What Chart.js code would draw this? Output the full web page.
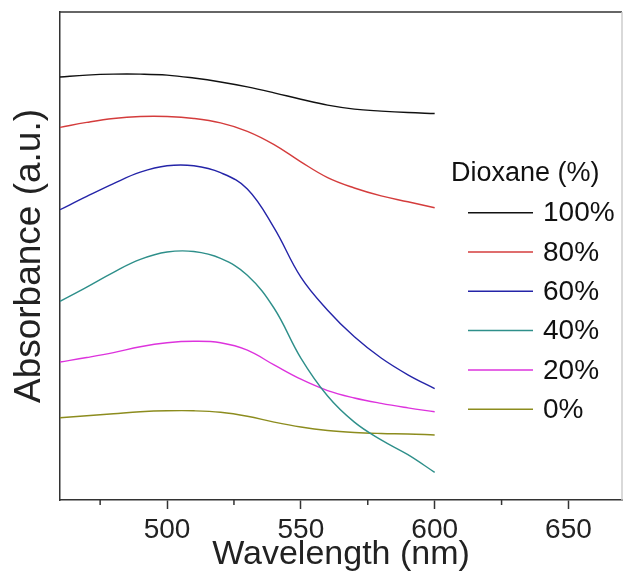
<!DOCTYPE html>
<html>
<head>
<meta charset="utf-8">
<script src="https://cdn.jsdelivr.net/npm/chart.js@4/dist/chart.umd.min.js"></script>
<style>
  html, body { margin: 0; padding: 0; background: #fff; }
  #wrap { width: 623px; height: 578px; }
</style>
</head>
<body>
<div id="wrap"><canvas id="c" width="623" height="578"></canvas></div>
<script>
// Wavelength (nm)
const wavelengths = [460, 470, 480, 490, 500, 510, 520, 530, 540, 550, 560, 570, 580, 590, 600];
// Absorbance (arbitrary units, offset curves)
const dioxane100 = [8.68, 8.72, 8.74, 8.74, 8.72, 8.66, 8.58, 8.48, 8.36, 8.23, 8.11, 8.03, 7.99, 7.96, 7.94];
const dioxane80  = [7.66, 7.76, 7.84, 7.88, 7.88, 7.84, 7.75, 7.58, 7.31, 6.96, 6.64, 6.43, 6.27, 6.15, 6.03];
const dioxane60  = [5.99, 6.26, 6.52, 6.75, 6.88, 6.88, 6.74, 6.41, 5.62, 4.62, 3.95, 3.41, 2.98, 2.64, 2.36];
const dioxane40  = [4.13, 4.42, 4.72, 4.98, 5.13, 5.14, 5.00, 4.66, 3.99, 2.98, 2.21, 1.68, 1.32, 1.02, 0.66];
const dioxane20  = [2.90, 2.99, 3.09, 3.21, 3.29, 3.32, 3.29, 3.14, 2.84, 2.55, 2.32, 2.17, 2.06, 1.97, 1.89];
const dioxane0   = [1.77, 1.81, 1.85, 1.89, 1.91, 1.91, 1.88, 1.80, 1.68, 1.58, 1.51, 1.47, 1.45, 1.44, 1.42];
const seriesLabels = ['100%', '80%', '60%', '40%', '20%', '0%'];
const majorTicks = [500, 550, 600, 650];
const minorTicks = [475, 525, 575, 625];

const FONT = "'Liberation Sans', Arial, sans-serif";
const colors = ['#111111', '#d43c3c', '#2424a8', '#2e8f8a', '#dd33dd', '#8c8c1e'];
const seriesValues = [dioxane100, dioxane80, dioxane60, dioxane40, dioxane20, dioxane0];

const datasets = seriesValues.map((vals, i) => ({
  label: seriesLabels[i],
  data: wavelengths.map((w, j) => ({ x: w, y: vals[j] })),
  borderColor: colors[i],
  backgroundColor: colors[i],
  borderWidth: 1.4,
  pointRadius: 0,
  tension: 0.4,
  fill: false
}));

const framePlugin = {
  id: 'frame',
  afterDraw(chart) {
    const { ctx, chartArea: a, scales: { x } } = chart;
    ctx.save();
    ctx.lineWidth = 1.5;
    ctx.strokeStyle = '#333';
    ctx.beginPath();
    ctx.moveTo(a.left, a.top);
    ctx.lineTo(a.right, a.top);
    ctx.stroke();
    ctx.strokeStyle = '#cccccc';
    ctx.beginPath();
    ctx.moveTo(a.right, a.top);
    ctx.lineTo(a.right, a.bottom);
    ctx.stroke();
    // minor ticks
    ctx.strokeStyle = '#333';
    ctx.lineWidth = 1.5;
    minorTicks.forEach(v => {
      const px = x.getPixelForValue(v);
      ctx.beginPath();
      ctx.moveTo(px, a.bottom);
      ctx.lineTo(px, a.bottom + 5);
      ctx.stroke();
    });
    ctx.restore();
  }
};

const legendPlugin = {
  id: 'customLegend',
  afterDraw(chart) {
    const { ctx } = chart;
    ctx.save();
    ctx.fillStyle = '#111';
    ctx.textBaseline = 'middle';
    ctx.textAlign = 'left';
    ctx.font = '27px ' + FONT;
    ctx.fillText('Dioxane (%)', 451, 174);
    const y0 = 212.7, dy = 39.3;
    chart.data.datasets.forEach((ds, i) => {
      const y = y0 + i * dy;
      ctx.strokeStyle = ds.borderColor;
      ctx.lineWidth = 1.5;
      ctx.beginPath();
      ctx.moveTo(468, y);
      ctx.lineTo(533, y);
      ctx.stroke();
      ctx.fillStyle = '#111';
      ctx.font = '28px ' + FONT;
      ctx.fillText(ds.label, 543, y + 1);
    });
    ctx.restore();
  }
};

new Chart(document.getElementById('c'), {
  type: 'line',
  data: { datasets },
  plugins: [framePlugin, legendPlugin],
  options: {
    responsive: false,
    animation: false,
    layout: { padding: { top: 12, right: 1, left: 0, bottom: 0 } },
    plugins: { legend: { display: false }, tooltip: { enabled: false } },
    scales: {
      x: {
        type: 'linear',
        min: 460,
        max: 670,
        afterBuildTicks: (s) => { s.ticks = majorTicks.map(v => ({ value: v })); },
        afterFit: (s) => { s.height = 78; },
        grid: { display: true, drawOnChartArea: false, drawTicks: true, tickLength: 9, tickColor: '#333', tickWidth: 1.5 },
        border: { display: true, color: '#333', width: 1.5 },
        ticks: { font: { family: FONT, size: 28 }, color: '#222', padding: 4, maxRotation: 0, autoSkip: false },
        title: { display: true, text: 'Wavelength (nm)', font: { family: FONT, size: 34 }, color: '#222', padding: { top: 0, bottom: 3 } }
      },
      y: {
        type: 'linear',
        min: 0.1,
        max: 10,
        afterFit: (s) => { s.width = 60; },
        grid: { display: false, drawTicks: false },
        border: { display: true, color: '#333', width: 1.5 },
        ticks: { display: false },
        title: { display: true, text: 'Absorbance (a.u.)', font: { family: FONT, size: 37 }, color: '#222', padding: { top: 8, bottom: 0 } }
      }
    }
  }
});
</script>
</body>
</html>
